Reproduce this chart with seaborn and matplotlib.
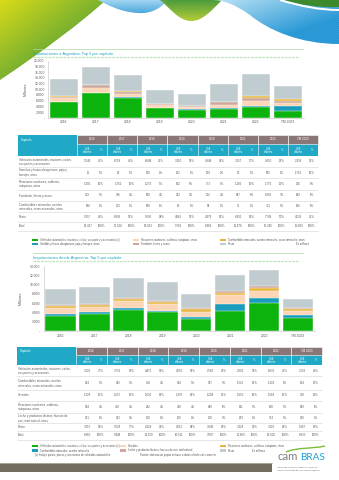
import numpy as np
import pandas as pd
import matplotlib
matplotlib.use("Agg")
import matplotlib.pyplot as plt
import seaborn as sns
from matplotlib.patches import Rectangle, PathPatch
from matplotlib.path import Path
from matplotlib.colors import to_rgb

sns.set_style("white")
plt.rcParams["font.family"] = ["Liberation Sans", "DejaVu Sans"]

# ---------------------------------------------------------------- data
years = ["2016", "2017", "2018", "2019", "2020", "2021", "2022", "7M 2023"]

# Exportaciones a Argentina, US$ millones
exp_labels = [
    "Vehículos automóviles, tractores, ciclos,\nsus partes y accesorios",
    "Semillas y frutos oleaginosos; paja y\nforrajes; otros",
    "Reactores nucleares, calderas,\nmáquinas, otros",
    "Fundición, hierro y acero",
    "Combustibles minerales, aceites\nminerales, ceras minerales, otros",
    "Resto",
]
exp_vehiculos = [5540, 8718, 6848, 3410, 2848, 3157, 3850, 2438]
exp_semillas = [11, 54, 250, 122, 129, 95, 185, 1765]
exp_reactores = [1302, 1761, 1273, 802, 773, 1166, 1775, 926]
exp_fundicion = [419, 786, 659, 342, 302, 987, 1085, 649]
exp_combustibles = [188, 203, 188, 60, 58, 72, 701, 666]
exp_resto = [5957, 6096, 5695, 4965, 4379, 6401, 7749, 4639]

# Importaciones desde Argentina, US$ millones
imp_labels = [
    "Vehículos automóviles, tractores, ciclos,\nsus partes y accesorios",
    "Combustibles minerales, aceites\nminerales, ceras minerales, otros",
    "Cereales",
    "Reactores nucleares, calderas,\nmáquinas, otros",
    "Leche y productos lácteos; huevos de\nave; miel natural; otros",
    "Resto",
]
imp_vehiculos = [3326, 3731, 4471, 4050, 2586, 4202, 6031, 2726]
imp_combustibles = [264, 282, 458, 364, 357, 1525, 1102, 804]
imp_cereales = [1328, 1257, 1620, 1476, 1208, 1950, 1568, 730]
imp_reactores = [364, 418, 442, 400, 489, 611, 600, 383]
imp_leche = [221, 232, 209, 206, 208, 253, 374, 220]
imp_resto = [3457, 3528, 4129, 4015, 3049, 3428, 3425, 1967]

# ---------------------------------------------------------------- style
GREEN = "#0db30d"
TEAL = "#1a9cbd"
PEACH = "#fbd5b5"
MAUVE_BAR = "#cfa79c"
GOLD = "#e6b53e"
GREY = "#c0cccf"
CYAN = "#1fa9c6"
HEAD = "#8b7677"
TXT = "#595959"
LINE = "#d3d3d3"
TITLE = "#1ba1c2"

W, H = 339, 480
fig = plt.figure(figsize=(W / 100, H / 100), dpi=100)
bg = fig.add_axes([0, 0, 1, 1])
bg.set_xlim(0, W)
bg.set_ylim(H, 0)
bg.axis("off")


def fmt(v):
    return f"{int(v):,}".replace(",", ".")


# ---------------------------------------------------------------- header artwork
def shape(verts, codes):
    return Path(verts, codes)


def gradient_fill(path, c0, c1, extent, direction="diag", stripes=True, z=1):
    patch = PathPatch(path, fc="none", ec="none", transform=bg.transData, zorder=z)
    bg.add_patch(patch)
    n = 120
    xs = np.linspace(0, 1, n)
    ys = np.linspace(0, 1, n)
    X, Y = np.meshgrid(xs, ys)
    if direction == "diag":
        t = np.clip((X + Y) / 1.4, 0, 1)
    elif direction == "x":
        t = X
    else:
        t = Y
    a, b = np.array(to_rgb(c0)), np.array(to_rgb(c1))
    img = a[None, None, :] * (1 - t[..., None]) + b[None, None, :] * t[..., None]
    im = bg.imshow(img, extent=extent, origin="upper", aspect="auto",
                   zorder=z, interpolation="bilinear")
    im.set_clip_path(patch)
    if stripes:
        x0, x1, y1, y0 = extent
        for c in np.arange(x0 - 120, x1 + 120, 1.6):
            ln, = bg.plot([c, c + 90], [y1 + 10, y0 - 60], color="white",
                          lw=0.25, alpha=0.22, zorder=z + 0.1)
            ln.set_clip_path(patch)


M, C4, L, CL = Path.MOVETO, Path.CURVE4, Path.LINETO, Path.CLOSEPOLY

# yellow-green corner
p = shape([(0, 0), (106, 0), (82, 22), (42, 52), (0, 80), (0, 0)],
          [M, L, C4, C4, C4, CL])
gradient_fill(p, "#d6d90a", "#4f9d2d", (0, 106, 80, 0))

# light blue swoosh
p = shape([(98, 0), (168, 0), (160, 9), (150, 14), (138, 13),
           (120, 12), (108, 5), (98, 0), (98, 0)],
          [M, L, C4, C4, C4, C4, C4, C4, CL])
gradient_fill(p, "#9ad3f1", "#3a9fd8", (98, 168, 14, 0), direction="y")

# green "V"
p = shape([(160, 0), (222, 0), (212, 10), (202, 22), (190, 21),
           (178, 20), (170, 8), (160, 0), (160, 0)],
          [M, L, C4, C4, C4, C4, C4, C4, CL])
gradient_fill(p, "#3f952f", "#b5cd2c", (160, 222, 22, 0), direction="y")

# right blue wave
p = shape([(212, 0), (339, 0), (339, 44), (300, 44), (268, 30), (250, 15),
           (236, 5), (224, 0), (212, 0), (212, 0)],
          [M, L, L, C4, C4, C4, C4, C4, C4, CL])
gradient_fill(p, "#b8e2f6", "#1d93d4", (212, 339, 44, 0))

# dark green cap top right with white ribbon
p = shape([(284, 0), (339, 0), (339, 7), (320, 8), (300, 5), (284, 0), (284, 0)],
          [M, L, L, C4, C4, C4, CL])
bg.add_patch(PathPatch(p, fc="#3d8a2c", ec="none", zorder=2))
rib = Path([(280, 0), (300, 6), (320, 10), (339, 10)], [M, C4, C4, C4])
bg.add_patch(PathPatch(rib, fc="none", ec="white", lw=1.4, zorder=2.2))

# bottom band
band = Rectangle((0, 463), 272, 9, fc="#696454", ec="none", zorder=1)
bg.add_patch(band)
bg.plot([0, 272], [462.8, 462.8], color="#b2ad9f", lw=0.6, zorder=1.1)
for c in np.arange(-20, 290, 1.8):
    ln, = bg.plot([c, c + 12], [472, 463], color="white", lw=0.25,
                  alpha=0.2, zorder=1.2)
    ln.set_clip_path(band)

# logo
bg.text(277, 460, "cam", fontsize=8.2, color="#808080", family="Lato",
        va="baseline", ha="left")
bg.text(300.5, 460, "BRAS", fontsize=7.2, color="#1f9fd6", family="Lato",
        va="baseline", ha="left")
sw = Path([(286, 452), (298, 447), (312, 449), (325, 446)], [M, C4, C4, C4])
bg.add_patch(PathPatch(sw, fc="none", ec="#7dbb3a", lw=1.0))
bg.text(277, 467.5, "Cámara de Comercio, Industria y Servicios",
        fontsize=1.5, color=TXT, va="center")
bg.text(277, 470.5, "Argentino Brasileña de la República Argentina",
        fontsize=1.5, color=TXT, va="center")


# ---------------------------------------------------------------- section titles
def section_title(y, text, xr=303):
    bg.plot([33, xr], [y - 4.3, y - 4.3], color="#a9d9a4", lw=0.5)
    bg.plot([33, xr - 4], [y + 3.8, y + 3.8], color="#bfe3bb", lw=0.9,
            ls=(0, (2.2, 0.8)))
    bg.text(33, y, text, fontsize=2.9, color=TITLE, va="center", ha="left")


section_title(53.5, "Exportaciones a Argentina: Top 5 por capítulo")
section_title(257.5, "Importaciones desde Argentina: Top 5 por capítulo")


# ---------------------------------------------------------------- stacked bars
def stacked_chart(rect, layers, colors, ymax):
    ax = fig.add_axes(rect)
    ax.set_facecolor("none")
    cum = np.cumsum(np.array(layers, dtype=float), axis=0)
    for i in range(len(layers) - 1, -1, -1):
        df = pd.DataFrame({"Año": years, "Valor": cum[i]})
        sns.barplot(data=df, x="Año", y="Valor", color=colors[i], saturation=1,
                    width=0.9, errorbar=None, ax=ax, edgecolor="white",
                    linewidth=0.3)
    ax.set_xlim(-0.5, len(years) - 0.5)
    ax.set_ylim(0, ymax)
    ticks = np.arange(0, ymax + 1, 2000)
    ax.set_yticks(ticks)
    ax.set_yticklabels(["-" if t == 0 else fmt(t) for t in ticks])
    ax.tick_params(axis="both", labelsize=2.4, colors=TXT, length=1.2,
                   width=0.3, pad=1.2)
    ax.tick_params(axis="x", length=0, pad=2.0)
    ax.set_xlabel("")
    ax.set_ylabel("Millones", fontsize=2.6, color=TXT, labelpad=5)
    for s in ("top", "right"):
        ax.spines[s].set_visible(False)
    for s in ("left", "bottom"):
        ax.spines[s].set_color("#bfbfbf")
        ax.spines[s].set_linewidth(0.4)
    return ax


def frac_rect(x0, x1, ytop, ybot):
    return [x0 / W, 1 - ybot / H, (x1 - x0) / W, (ybot - ytop) / H]


exp_layers = [exp_vehiculos, exp_semillas, exp_reactores, exp_fundicion,
              exp_combustibles, exp_resto]
exp_colors = [GREEN, TEAL, PEACH, MAUVE_BAR, GOLD, GREY]
stacked_chart(frac_rect(48, 304, 60.7, 117.7), exp_layers, exp_colors, 20000)

imp_layers = [imp_vehiculos, imp_combustibles, imp_cereales, imp_reactores,
              imp_leche, imp_resto]
imp_colors = [GREEN, TEAL, PEACH, GOLD, MAUVE_BAR, GREY]
stacked_chart(frac_rect(43.5, 315, 266, 331), imp_layers, imp_colors, 14000)


# ---------------------------------------------------------------- tables
def draw_table(x0, xl, xr, top, h1, h2, edges, labels, layers):
    gw = (xr - xl) / len(years)
    totals = np.sum(np.array(layers), axis=0)
    bg.add_patch(Rectangle((x0, top), xl - x0, h1 + h2, fc=CYAN, ec="none"))
    bg.text(x0 + 3, top + h1 / 2, "Capítulo", fontsize=2.2, color="white",
            va="center")
    y2 = top + h1
    bg.add_patch(Rectangle((xl, y2), xr - xl, h2, fc=CYAN, ec="none"))
    for j, yr in enumerate(years):
        gx = xl + j * gw
        bg.add_patch(Rectangle((gx, top), gw, h1, fc=HEAD, ec="white", lw=0.4))
        bg.text(gx + gw / 2, top + h1 / 2, yr, fontsize=2.2, color="white",
                ha="center", va="center")
        bg.plot([gx, gx], [y2, y2 + h2], color="white", lw=0.4)
        bg.text(gx + gw * 0.36, y2 + h2 / 2, "US$\nmillones", fontsize=1.9,
                color="white", ha="center", va="center", linespacing=1.0)
        bg.text(gx + gw * 0.8, y2 + h2 / 2, "%", fontsize=1.9, color="white",
                ha="center", va="center")
    rows = list(zip(labels, layers)) + [("Total", totals)]
    for i, (lab, vals) in enumerate(rows):
        ya, yb = edges[i], edges[i + 1]
        yc = (ya + yb) / 2
        bg.text(x0 + 1, yc, lab, fontsize=2.05, color=TXT, va="center",
                ha="left", linespacing=1.1)
        for j, v in enumerate(vals):
            gx = xl + j * gw
            pct = round(100 * v / totals[j])
            bg.text(gx + gw * 0.36, yc, fmt(v), fontsize=2.1, color=TXT,
                    ha="center", va="center")
            bg.text(gx + gw * 0.8, yc, f"{pct}%", fontsize=2.1, color=TXT,
                    ha="center", va="center")
        bg.plot([x0, xr], [yb, yb], color=LINE, lw=0.4)


draw_table(18, 77, 318, 135, 9, 12,
           [156, 167, 178, 190, 201, 211.5, 221.5, 231],
           exp_labels, exp_layers)
draw_table(17, 76, 322, 347, 8, 10,
           [365, 376, 390, 401, 413, 423, 431, 440],
           imp_labels, imp_layers)


# ---------------------------------------------------------------- legends
def legend_item(x, y, color, text):
    bg.add_patch(Rectangle((x, y - 1.1), 6, 2.2, fc=color, ec="none"))
    bg.text(x + 8, y, text, fontsize=1.9, color=TXT, va="center", ha="left")


legend_item(32, 240, GREEN,
            "Vehículos automóviles, tractores, ciclos, sus partes y accesorios (x)")
legend_item(32, 244, TEAL, "Semillas y frutos oleaginosos; paja y forrajes; otros")
legend_item(133, 240, PEACH, "Reactores nucleares, calderas, máquinas, otros")
legend_item(133, 244, MAUVE_BAR, "Fundición, hierro y acero")
legend_item(220, 240, GOLD, "Combustibles minerales, aceites minerales, ceras minerales, otros")
legend_item(220, 244, GREY, "Resto")
bg.text(296, 244, "En millones", fontsize=1.9, color=TXT, va="center")

legend_item(32, 446, GREEN,
            "Vehículos automóviles, tractores, ciclos, sus partes y accesorios (x)")
legend_item(32, 450.5, TEAL, "Combustibles minerales, aceites minerales")
bg.text(35, 455, "(x) Incluye partes, piezas y accesorios de vehículos automóviles",
        fontsize=1.9, color=TXT, va="center")
legend_item(120, 446, PEACH, "Cereales")
legend_item(120, 450.5, MAUVE_BAR, "Leche y productos lácteos; huevos de ave; miel natural")
bg.text(140, 455, "Fuente: elaboración propia en base a datos oficiales de comercio",
        fontsize=1.9, color=TXT, va="center")
legend_item(220, 446, GOLD, "Reactores nucleares, calderas, máquinas, otros")
legend_item(220, 450.5, GREY, "Resto")
bg.text(252, 451, "En millones", fontsize=1.9, color=TXT, va="center")

fig.savefig("out.png", dpi=100)
